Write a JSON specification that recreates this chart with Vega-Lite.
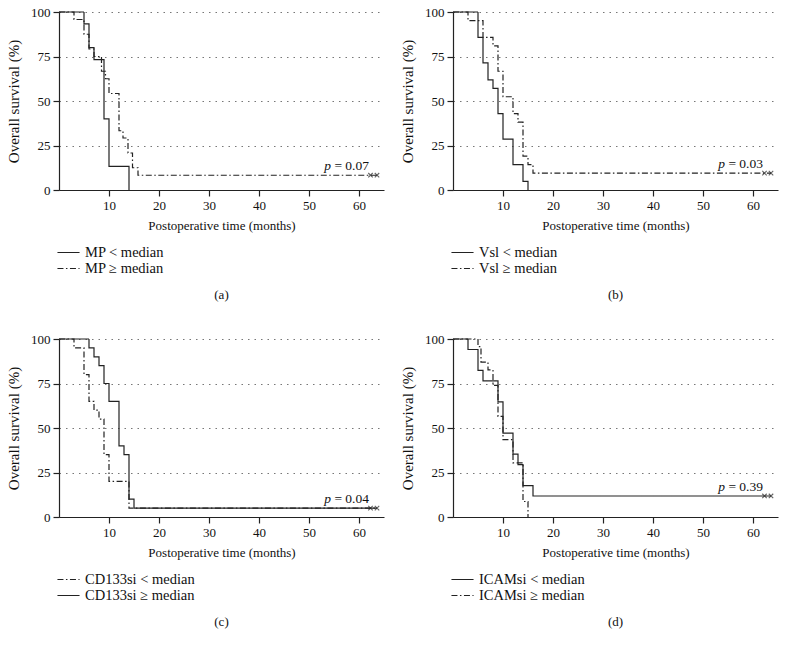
{
  "$schema": "https://vega.github.io/schema/vega-lite/v6.json",
  "background": "white",
  "padding": {"left": 6, "top": 6, "right": 4, "bottom": 4},
  "spacing": {"row": 31, "column": 16},
  "config": {
    "font": "Liberation Serif",
    "view": {"stroke": null},
    "axis": {
      "labelFont": "Liberation Serif", "labelFontSize": 13, "labelColor": "#111", "labelPadding": 3,
      "titleFont": "Liberation Serif", "titleFontSize": 13.5, "titleFontWeight": "normal", "titleColor": "#111",
      "domainColor": "#222", "tickColor": "#222", "tickSize": 6, "domainWidth": 1.2, "tickWidth": 1.2
    },
    "axisX": {"titlePadding": 7, "titleFontSize": 13},
    "axisY": {"titlePadding": 9, "titleFontSize": 15},
    "legend": {
      "orient": "bottom", "direction": "vertical", "title": null,
      "symbolType": "M-1.3,0H1.3", "symbolSize": 289, "symbolStrokeWidth": 1.2, "symbolStrokeColor": "#222", "symbolFillColor": "transparent",
      "labelFont": "Liberation Serif", "labelFontSize": 14.5, "labelColor": "#111", "labelOffset": 7, "rowPadding": 0, "offset": 11, "padding": 0
    },
    "title": {"font": "Liberation Serif", "fontSize": 13, "fontWeight": "normal", "color": "#111"}
  },
  "datasets": {
    "km": [
      {"panel": "a", "grp": "MP < median", "t": 0, "s": 100},
      {"panel": "a", "grp": "MP < median", "t": 5, "s": 93.3},
      {"panel": "a", "grp": "MP < median", "t": 6, "s": 80},
      {"panel": "a", "grp": "MP < median", "t": 7, "s": 73.3},
      {"panel": "a", "grp": "MP < median", "t": 9, "s": 40},
      {"panel": "a", "grp": "MP < median", "t": 10, "s": 13.3},
      {"panel": "a", "grp": "MP < median", "t": 14, "s": 0},
      {"panel": "a", "grp": "MP ≥ median", "t": 0, "s": 100},
      {"panel": "a", "grp": "MP ≥ median", "t": 3, "s": 95.8},
      {"panel": "a", "grp": "MP ≥ median", "t": 5, "s": 87.5},
      {"panel": "a", "grp": "MP ≥ median", "t": 6, "s": 79.2},
      {"panel": "a", "grp": "MP ≥ median", "t": 7, "s": 75},
      {"panel": "a", "grp": "MP ≥ median", "t": 8.5, "s": 66.7},
      {"panel": "a", "grp": "MP ≥ median", "t": 9.3, "s": 62.5},
      {"panel": "a", "grp": "MP ≥ median", "t": 10, "s": 54.2},
      {"panel": "a", "grp": "MP ≥ median", "t": 12, "s": 33.3},
      {"panel": "a", "grp": "MP ≥ median", "t": 12.8, "s": 29.2},
      {"panel": "a", "grp": "MP ≥ median", "t": 13.8, "s": 20.8},
      {"panel": "a", "grp": "MP ≥ median", "t": 14.7, "s": 12.5},
      {"panel": "a", "grp": "MP ≥ median", "t": 15.8, "s": 8.3},
      {"panel": "a", "grp": "MP ≥ median", "t": 63.6, "s": 8.3},
      {"panel": "b", "grp": "Vsl < median", "t": 0, "s": 100},
      {"panel": "b", "grp": "Vsl < median", "t": 5, "s": 85.7},
      {"panel": "b", "grp": "Vsl < median", "t": 6, "s": 71.4},
      {"panel": "b", "grp": "Vsl < median", "t": 7, "s": 61.9},
      {"panel": "b", "grp": "Vsl < median", "t": 8, "s": 57.1},
      {"panel": "b", "grp": "Vsl < median", "t": 9, "s": 42.9},
      {"panel": "b", "grp": "Vsl < median", "t": 10, "s": 28.6},
      {"panel": "b", "grp": "Vsl < median", "t": 12, "s": 14.3},
      {"panel": "b", "grp": "Vsl < median", "t": 14, "s": 4.8},
      {"panel": "b", "grp": "Vsl < median", "t": 15, "s": 0},
      {"panel": "b", "grp": "Vsl ≥ median", "t": 0, "s": 100},
      {"panel": "b", "grp": "Vsl ≥ median", "t": 3, "s": 95.2},
      {"panel": "b", "grp": "Vsl ≥ median", "t": 6, "s": 85.7},
      {"panel": "b", "grp": "Vsl ≥ median", "t": 8, "s": 81},
      {"panel": "b", "grp": "Vsl ≥ median", "t": 9, "s": 66.7},
      {"panel": "b", "grp": "Vsl ≥ median", "t": 10, "s": 52.4},
      {"panel": "b", "grp": "Vsl ≥ median", "t": 12, "s": 42.9},
      {"panel": "b", "grp": "Vsl ≥ median", "t": 13, "s": 38.1},
      {"panel": "b", "grp": "Vsl ≥ median", "t": 14, "s": 19},
      {"panel": "b", "grp": "Vsl ≥ median", "t": 15, "s": 14.3},
      {"panel": "b", "grp": "Vsl ≥ median", "t": 16, "s": 9.5},
      {"panel": "b", "grp": "Vsl ≥ median", "t": 63.6, "s": 9.5},
      {"panel": "c", "grp": "CD133si < median", "t": 0, "s": 100},
      {"panel": "c", "grp": "CD133si < median", "t": 3, "s": 95},
      {"panel": "c", "grp": "CD133si < median", "t": 5, "s": 80},
      {"panel": "c", "grp": "CD133si < median", "t": 6, "s": 65},
      {"panel": "c", "grp": "CD133si < median", "t": 7, "s": 60},
      {"panel": "c", "grp": "CD133si < median", "t": 8, "s": 55},
      {"panel": "c", "grp": "CD133si < median", "t": 9, "s": 35},
      {"panel": "c", "grp": "CD133si < median", "t": 10, "s": 20},
      {"panel": "c", "grp": "CD133si < median", "t": 14, "s": 5},
      {"panel": "c", "grp": "CD133si < median", "t": 63.6, "s": 5},
      {"panel": "c", "grp": "CD133si ≥ median", "t": 0, "s": 100},
      {"panel": "c", "grp": "CD133si ≥ median", "t": 6, "s": 95},
      {"panel": "c", "grp": "CD133si ≥ median", "t": 7, "s": 90},
      {"panel": "c", "grp": "CD133si ≥ median", "t": 8, "s": 85},
      {"panel": "c", "grp": "CD133si ≥ median", "t": 9, "s": 75},
      {"panel": "c", "grp": "CD133si ≥ median", "t": 10, "s": 65},
      {"panel": "c", "grp": "CD133si ≥ median", "t": 12, "s": 40},
      {"panel": "c", "grp": "CD133si ≥ median", "t": 13, "s": 35},
      {"panel": "c", "grp": "CD133si ≥ median", "t": 14, "s": 10},
      {"panel": "c", "grp": "CD133si ≥ median", "t": 15, "s": 5},
      {"panel": "c", "grp": "CD133si ≥ median", "t": 63.6, "s": 5},
      {"panel": "d", "grp": "ICAMsi < median", "t": 0, "s": 100},
      {"panel": "d", "grp": "ICAMsi < median", "t": 3, "s": 94.1},
      {"panel": "d", "grp": "ICAMsi < median", "t": 5, "s": 82.4},
      {"panel": "d", "grp": "ICAMsi < median", "t": 6, "s": 76.5},
      {"panel": "d", "grp": "ICAMsi < median", "t": 9, "s": 64.7},
      {"panel": "d", "grp": "ICAMsi < median", "t": 10, "s": 47.1},
      {"panel": "d", "grp": "ICAMsi < median", "t": 12, "s": 35.3},
      {"panel": "d", "grp": "ICAMsi < median", "t": 13, "s": 29.4},
      {"panel": "d", "grp": "ICAMsi < median", "t": 14, "s": 17.6},
      {"panel": "d", "grp": "ICAMsi < median", "t": 16, "s": 11.8},
      {"panel": "d", "grp": "ICAMsi < median", "t": 63.6, "s": 11.8},
      {"panel": "d", "grp": "ICAMsi ≥ median", "t": 0, "s": 100},
      {"panel": "d", "grp": "ICAMsi ≥ median", "t": 5, "s": 95.7},
      {"panel": "d", "grp": "ICAMsi ≥ median", "t": 5.6, "s": 87},
      {"panel": "d", "grp": "ICAMsi ≥ median", "t": 7, "s": 82.6},
      {"panel": "d", "grp": "ICAMsi ≥ median", "t": 8, "s": 73.9},
      {"panel": "d", "grp": "ICAMsi ≥ median", "t": 9, "s": 56.5},
      {"panel": "d", "grp": "ICAMsi ≥ median", "t": 10, "s": 43.5},
      {"panel": "d", "grp": "ICAMsi ≥ median", "t": 12, "s": 30.4},
      {"panel": "d", "grp": "ICAMsi ≥ median", "t": 14, "s": 8.7},
      {"panel": "d", "grp": "ICAMsi ≥ median", "t": 15, "s": 0}
    ],
    "cens": [
      {"panel": "a", "t": 62.3, "s": 8.3}, {"panel": "a", "t": 63.6, "s": 8.3},
      {"panel": "b", "t": 62.3, "s": 9.5}, {"panel": "b", "t": 63.6, "s": 9.5},
      {"panel": "c", "t": 62.3, "s": 5}, {"panel": "c", "t": 63.6, "s": 5},
      {"panel": "d", "t": 62.3, "s": 11.8}, {"panel": "d", "t": 63.6, "s": 11.8}
    ],
    "pv": [
      {"panel": "a", "t": 62, "s": 11.5, "p": "p", "v": "= 0.07"},
      {"panel": "b", "t": 62, "s": 12.5, "p": "p", "v": "= 0.03"},
      {"panel": "c", "t": 62, "s": 8, "p": "p", "v": "= 0.04"},
      {"panel": "d", "t": 62, "s": 14.8, "p": "p", "v": "= 0.39"}
    ]
  },
  "columns": 2,
  "concat": [
    {
      "width": 325, "height": 178,
      "title": {"text": "(a)", "orient": "bottom", "anchor": "middle", "offset": 14},
      "layer": [
        {"data": {"name": "km"}, "transform": [{"filter": "datum.panel == 'a'"}],
         "mark": {"type": "line", "interpolate": "step-after", "color": "#222", "strokeWidth": 1.2},
         "encoding": {
           "x": {"field": "t", "type": "quantitative", "scale": {"domain": [0, 65], "nice": false}, "axis": {"values": [10, 20, 30, 40, 50, 60], "title": "Postoperative time (months)", "grid": false}},
           "y": {"field": "s", "type": "quantitative", "scale": {"domain": [0, 100], "nice": false}, "axis": {"values": [0, 25, 50, 75, 100], "title": "Overall survival (%)", "grid": true, "gridDash": [1.5, 5], "gridColor": "#777", "gridWidth": 1.2}},
           "strokeDash": {"field": "grp", "type": "nominal", "scale": {"domain": ["MP < median", "MP ≥ median"], "range": [[1, 0], [6, 2.5, 1.5, 2.5]]}}
         }},
        {"data": {"name": "cens"}, "transform": [{"filter": "datum.panel == 'a'"}],
         "mark": {"type": "point", "shape": "M-1,-1L1,1M-1,1L1,-1", "filled": false, "color": "#222", "size": 20, "strokeWidth": 1.1},
         "encoding": {"x": {"field": "t", "type": "quantitative"}, "y": {"field": "s", "type": "quantitative"}}},
        {"data": {"name": "pv"}, "transform": [{"filter": "datum.panel == 'a'"}],
         "mark": {"type": "text", "align": "right", "baseline": "alphabetic", "fontSize": 13.5, "font": "Liberation Serif", "color": "#111"},
         "encoding": {"x": {"field": "t", "type": "quantitative"}, "y": {"field": "s", "type": "quantitative"}, "text": {"field": "v"}}},
        {"data": {"name": "pv"}, "transform": [{"filter": "datum.panel == 'a'"}],
         "mark": {"type": "text", "align": "right", "baseline": "alphabetic", "fontSize": 13.5, "font": "Liberation Serif", "fontStyle": "italic", "color": "#111", "dx": -38},
         "encoding": {"x": {"field": "t", "type": "quantitative"}, "y": {"field": "s", "type": "quantitative"}, "text": {"field": "p"}}}
      ]
    },
    {
      "width": 325, "height": 178,
      "title": {"text": "(b)", "orient": "bottom", "anchor": "middle", "offset": 14},
      "layer": [
        {"data": {"name": "km"}, "transform": [{"filter": "datum.panel == 'b'"}],
         "mark": {"type": "line", "interpolate": "step-after", "color": "#222", "strokeWidth": 1.2},
         "encoding": {
           "x": {"field": "t", "type": "quantitative", "scale": {"domain": [0, 65], "nice": false}, "axis": {"values": [10, 20, 30, 40, 50, 60], "title": "Postoperative time (months)", "grid": false}},
           "y": {"field": "s", "type": "quantitative", "scale": {"domain": [0, 100], "nice": false}, "axis": {"values": [0, 25, 50, 75, 100], "title": "Overall survival (%)", "grid": true, "gridDash": [1.5, 5], "gridColor": "#777", "gridWidth": 1.2}},
           "strokeDash": {"field": "grp", "type": "nominal", "scale": {"domain": ["Vsl < median", "Vsl ≥ median"], "range": [[1, 0], [6, 2.5, 1.5, 2.5]]}}
         }},
        {"data": {"name": "cens"}, "transform": [{"filter": "datum.panel == 'b'"}],
         "mark": {"type": "point", "shape": "M-1,-1L1,1M-1,1L1,-1", "filled": false, "color": "#222", "size": 20, "strokeWidth": 1.1},
         "encoding": {"x": {"field": "t", "type": "quantitative"}, "y": {"field": "s", "type": "quantitative"}}},
        {"data": {"name": "pv"}, "transform": [{"filter": "datum.panel == 'b'"}],
         "mark": {"type": "text", "align": "right", "baseline": "alphabetic", "fontSize": 13.5, "font": "Liberation Serif", "color": "#111"},
         "encoding": {"x": {"field": "t", "type": "quantitative"}, "y": {"field": "s", "type": "quantitative"}, "text": {"field": "v"}}},
        {"data": {"name": "pv"}, "transform": [{"filter": "datum.panel == 'b'"}],
         "mark": {"type": "text", "align": "right", "baseline": "alphabetic", "fontSize": 13.5, "font": "Liberation Serif", "fontStyle": "italic", "color": "#111", "dx": -38},
         "encoding": {"x": {"field": "t", "type": "quantitative"}, "y": {"field": "s", "type": "quantitative"}, "text": {"field": "p"}}}
      ]
    },
    {
      "width": 325, "height": 178,
      "title": {"text": "(c)", "orient": "bottom", "anchor": "middle", "offset": 14},
      "layer": [
        {"data": {"name": "km"}, "transform": [{"filter": "datum.panel == 'c'"}],
         "mark": {"type": "line", "interpolate": "step-after", "color": "#222", "strokeWidth": 1.2},
         "encoding": {
           "x": {"field": "t", "type": "quantitative", "scale": {"domain": [0, 65], "nice": false}, "axis": {"values": [10, 20, 30, 40, 50, 60], "title": "Postoperative time (months)", "grid": false}},
           "y": {"field": "s", "type": "quantitative", "scale": {"domain": [0, 100], "nice": false}, "axis": {"values": [0, 25, 50, 75, 100], "title": "Overall survival (%)", "grid": true, "gridDash": [1.5, 5], "gridColor": "#777", "gridWidth": 1.2}},
           "strokeDash": {"field": "grp", "type": "nominal", "scale": {"domain": ["CD133si < median", "CD133si ≥ median"], "range": [[6, 2.5, 1.5, 2.5], [1, 0]]}}
         }},
        {"data": {"name": "cens"}, "transform": [{"filter": "datum.panel == 'c'"}],
         "mark": {"type": "point", "shape": "M-1,-1L1,1M-1,1L1,-1", "filled": false, "color": "#222", "size": 20, "strokeWidth": 1.1},
         "encoding": {"x": {"field": "t", "type": "quantitative"}, "y": {"field": "s", "type": "quantitative"}}},
        {"data": {"name": "pv"}, "transform": [{"filter": "datum.panel == 'c'"}],
         "mark": {"type": "text", "align": "right", "baseline": "alphabetic", "fontSize": 13.5, "font": "Liberation Serif", "color": "#111"},
         "encoding": {"x": {"field": "t", "type": "quantitative"}, "y": {"field": "s", "type": "quantitative"}, "text": {"field": "v"}}},
        {"data": {"name": "pv"}, "transform": [{"filter": "datum.panel == 'c'"}],
         "mark": {"type": "text", "align": "right", "baseline": "alphabetic", "fontSize": 13.5, "font": "Liberation Serif", "fontStyle": "italic", "color": "#111", "dx": -38},
         "encoding": {"x": {"field": "t", "type": "quantitative"}, "y": {"field": "s", "type": "quantitative"}, "text": {"field": "p"}}}
      ]
    },
    {
      "width": 325, "height": 178,
      "title": {"text": "(d)", "orient": "bottom", "anchor": "middle", "offset": 14},
      "layer": [
        {"data": {"name": "km"}, "transform": [{"filter": "datum.panel == 'd'"}],
         "mark": {"type": "line", "interpolate": "step-after", "color": "#222", "strokeWidth": 1.2},
         "encoding": {
           "x": {"field": "t", "type": "quantitative", "scale": {"domain": [0, 65], "nice": false}, "axis": {"values": [10, 20, 30, 40, 50, 60], "title": "Postoperative time (months)", "grid": false}},
           "y": {"field": "s", "type": "quantitative", "scale": {"domain": [0, 100], "nice": false}, "axis": {"values": [0, 25, 50, 75, 100], "title": "Overall survival (%)", "grid": true, "gridDash": [1.5, 5], "gridColor": "#777", "gridWidth": 1.2}},
           "strokeDash": {"field": "grp", "type": "nominal", "scale": {"domain": ["ICAMsi < median", "ICAMsi ≥ median"], "range": [[1, 0], [6, 2.5, 1.5, 2.5]]}}
         }},
        {"data": {"name": "cens"}, "transform": [{"filter": "datum.panel == 'd'"}],
         "mark": {"type": "point", "shape": "M-1,-1L1,1M-1,1L1,-1", "filled": false, "color": "#222", "size": 20, "strokeWidth": 1.1},
         "encoding": {"x": {"field": "t", "type": "quantitative"}, "y": {"field": "s", "type": "quantitative"}}},
        {"data": {"name": "pv"}, "transform": [{"filter": "datum.panel == 'd'"}],
         "mark": {"type": "text", "align": "right", "baseline": "alphabetic", "fontSize": 13.5, "font": "Liberation Serif", "color": "#111"},
         "encoding": {"x": {"field": "t", "type": "quantitative"}, "y": {"field": "s", "type": "quantitative"}, "text": {"field": "v"}}},
        {"data": {"name": "pv"}, "transform": [{"filter": "datum.panel == 'd'"}],
         "mark": {"type": "text", "align": "right", "baseline": "alphabetic", "fontSize": 13.5, "font": "Liberation Serif", "fontStyle": "italic", "color": "#111", "dx": -38},
         "encoding": {"x": {"field": "t", "type": "quantitative"}, "y": {"field": "s", "type": "quantitative"}, "text": {"field": "p"}}}
      ]
    }
  ],
  "resolve": {"scale": {"strokeDash": "independent"}, "legend": {"strokeDash": "independent"}}
}
